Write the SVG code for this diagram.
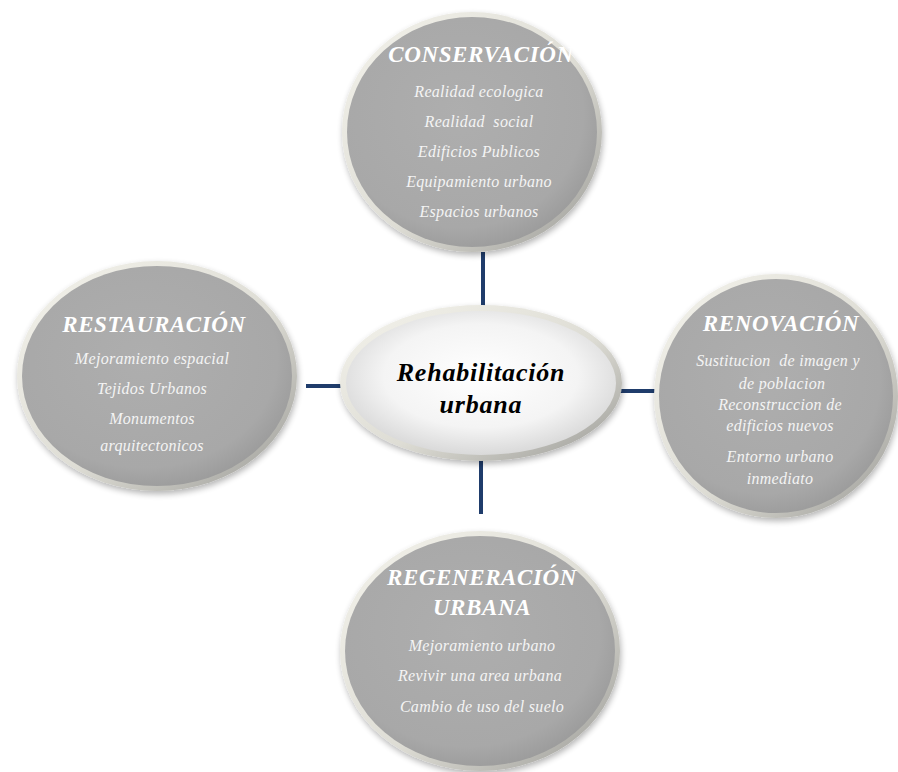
<svg xmlns="http://www.w3.org/2000/svg" width="898" height="772" viewBox="0 0 898 772">
<defs>
<linearGradient id="rim" x1="0" y1="0" x2="1" y2="1">
<stop offset="0" stop-color="#F4F3EC"/>
<stop offset="0.55" stop-color="#DEDDD5"/>
<stop offset="1" stop-color="#9A9A96"/>
</linearGradient>
<radialGradient id="face" cx="0.45" cy="0.42" r="0.62">
<stop offset="0" stop-color="#AEAEAE"/>
<stop offset="0.8" stop-color="#A8A8A8"/>
<stop offset="1" stop-color="#999999"/>
</radialGradient>
<radialGradient id="cface" cx="0.5" cy="0.45" r="0.6">
<stop offset="0" stop-color="#FFFFFF"/>
<stop offset="0.6" stop-color="#F4F4F4"/>
<stop offset="1" stop-color="#D2D2D2"/>
</radialGradient>
<filter id="sh" x="-10%" y="-10%" width="120%" height="125%">
<feGaussianBlur in="SourceAlpha" stdDeviation="3"/>
<feOffset dx="1" dy="3" result="b"/>
<feComponentTransfer><feFuncA type="linear" slope="0.3"/></feComponentTransfer>
<feMerge><feMergeNode/><feMergeNode in="SourceGraphic"/></feMerge>
</filter>
</defs>
<style>
.rim{fill:url(#rim);filter:url(#sh)}
.face{fill:url(#face)}
.cface{fill:url(#cface)}
.t{font-family:"Liberation Serif",serif;font-style:italic;font-weight:bold;fill:#FFFFFF;font-size:23px;text-anchor:middle;letter-spacing:0.6px}
.l{font-family:"Liberation Serif",serif;font-style:italic;fill:#F4F4F4;font-size:16px;text-anchor:middle;letter-spacing:0.3px;white-space:pre}
.c{font-family:"Liberation Serif",serif;font-style:italic;font-weight:bold;fill:#000000;font-size:26px;text-anchor:middle;letter-spacing:0.8px}
.con{stroke:#1F3C6B;stroke-width:4;fill:none}
</style>
<rect width="898" height="772" fill="#FFFFFF"/>
<g id="connectors">
<line class="con" x1="483" y1="252" x2="483" y2="307"/>
<line class="con" x1="306" y1="386" x2="342" y2="386"/>
<line class="con" x1="620" y1="391" x2="655" y2="391"/>
<line class="con" x1="481" y1="460" x2="481" y2="514"/>
</g>
<g id="conservacion">
<ellipse class="rim" cx="472" cy="132" rx="130" ry="120"/>
<ellipse class="face" cx="472" cy="132" rx="125" ry="115"/>
<text class="t" x="481" y="62">CONSERVACIÓN</text>
<text class="l" x="479" y="97">Realidad ecologica</text>
<text class="l" x="479" y="127">Realidad  social</text>
<text class="l" x="479" y="157">Edificios Publicos</text>
<text class="l" x="479" y="187">Equipamiento urbano</text>
<text class="l" x="479" y="217">Espacios urbanos</text>
</g>
<g id="restauracion">
<ellipse class="rim" cx="157" cy="376" rx="140" ry="115"/>
<ellipse class="face" cx="157" cy="376" rx="135" ry="110"/>
<text class="t" x="154" y="332">RESTAURACIÓN</text>
<text class="l" x="152" y="364">Mejoramiento espacial</text>
<text class="l" x="152" y="394">Tejidos Urbanos</text>
<text class="l" x="152" y="424">Monumentos</text>
<text class="l" x="152" y="451">arquitectonicos</text>
</g>
<g id="renovacion">
<ellipse class="rim" cx="776" cy="396" rx="122" ry="122"/>
<ellipse class="face" cx="776" cy="396" rx="117" ry="117"/>
<text class="t" x="781" y="331">RENOVACIÓN</text>
<text class="l" x="778" y="366">Sustitucion  de imagen y</text>
<text class="l" x="782" y="389">de poblacion</text>
<text class="l" x="780" y="410">Reconstruccion de</text>
<text class="l" x="780" y="431">edificios nuevos</text>
<text class="l" x="780" y="462">Entorno urbano</text>
<text class="l" x="780" y="484">inmediato</text>
</g>
<g id="regeneracion">
<ellipse class="rim" cx="480" cy="651" rx="140" ry="120"/>
<ellipse class="face" cx="480" cy="651" rx="135" ry="115"/>
<text class="t" x="482" y="585">REGENERACIÓN</text>
<text class="t" x="482" y="615">URBANA</text>
<text class="l" x="482" y="651">Mejoramiento urbano</text>
<text class="l" x="480" y="681">Revivir una area urbana</text>
<text class="l" x="482" y="712">Cambio de uso del suelo</text>
</g>
<g id="centro">
<ellipse class="rim" cx="481" cy="383" rx="141" ry="78"/>
<ellipse class="cface" cx="481" cy="383" rx="135" ry="72"/>
<text class="c" x="481" y="381">Rehabilitación</text>
<text class="c" x="481" y="413">urbana</text>
</g>
</svg>
